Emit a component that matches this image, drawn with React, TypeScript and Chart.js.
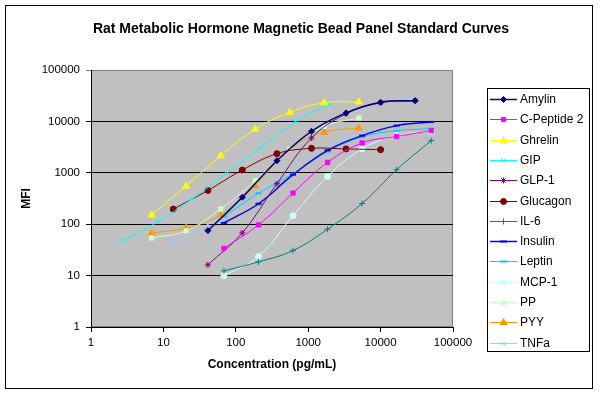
import React, { useEffect, useRef } from "react";
import { Chart, registerables } from "chart.js";
import { drawPoint } from "chart.js/helpers";

Chart.register(...registerables);

const chartTitle = "Rat Metabolic Hormone Magnetic Bead Panel Standard Curves";
const xTitle = "Concentration (pg/mL)";
const yTitle = "MFI";
const tickValues = [1, 10, 100, 1000, 10000, 100000];

const seriesNames = ["Amylin", "C-Peptide 2", "Ghrelin", "GIP", "GLP-1", "Glucagon", "IL-6", "Insulin", "Leptin", "MCP-1", "PP", "PYY", "TNFa"];
const seriesColors = ["#000080", "#FF00FF", "#FFFF00", "#00FFFF", "#800080", "#800000", "#008080", "#0000FF", "#00CCFF", "#CCFFFF", "#CCFFCC", "#FF9900", "#99CCFF"];
const seriesMarkers = ["rectRot", "rect", "triangle", "crossRot", "star", "circle", "cross", "line", "line", "circle", "rect", "triangle", "crossRot"];

// concentrations (pg/mL)
const concA = [41.2, 123, 370, 1111, 3333, 10000, 30000];
const concB = [68.6, 206, 617, 1852, 5556, 16667, 50000];
const concC = [6.86, 20.6, 61.7, 185, 556, 1667, 5000];
const concD = [2.74, 8.23, 24.7, 74.1, 222, 667, 2000];
const concE = [13.7, 41.2, 123, 370, 1111, 3333, 10000];

// MFI values
const amylinMfi = [75, 334, 1720, 6410, 14650, 23600, 25400];
const cPeptideMfi = [34, 97, 404, 1595, 3810, 5100, 6600];
const ghrelinMfi = [151, 553, 2150, 7020, 15000, 23100, 23900];
const gipMfi = [48, 110, 308, 970, 3150, 9900, 21900];
const glp1Mfi = [16.2, 68, 613, 4770, 14000, 23000, 25000];
const glucagonMfi = [197, 454, 1135, 2355, 2990, 2910, 2820];
const il6Mfi = [12.4, 18.5, 30.7, 80, 253, 1150, 4230];
const insulinMfi = [106, 250, 918, 2735, 5290, 8280, 9780];
const leptinMfi = [141, 400, 960, 2600, 5000, 6600, 7240];
const mcp1Mfi = [9.9, 23.5, 146, 851, 2910, 5290, 6420];
const ppMfi = [54, 74, 197, 700, 2900, 8000, 11700];
const pyyMfi = [67, 84, 152, 561, 2910, 6130, 7470];
const tnfaMfi = [42, 100, 260, 800, 2300, 4600, 6000];

const seriesConc = [concA, concB, concC, concD, concA, concE, concB, concB, concB, concB, concC, concC, concE];
const seriesMfi = [amylinMfi, cPeptideMfi, ghrelinMfi, gipMfi, glp1Mfi, glucagonMfi, il6Mfi, insulinMfi, leptinMfi, mcp1Mfi, ppMfi, pyyMfi, tnfaMfi];

const FONT = "'Liberation Sans', Arial, sans-serif";

function markerRadius(style: string) {
  if (style === "triangle") return 4;
  return 3;
}

const decorPlugin = {
  id: "decor",
  beforeDraw(chart: any) {
    const { ctx, chartArea: a } = chart;
    ctx.save();
    ctx.fillStyle = "#FFFFFF";
    ctx.fillRect(0, 0, chart.width, chart.height);
    ctx.strokeStyle = "#000000";
    ctx.lineWidth = 1;
    ctx.strokeRect(5.5, 5.5, 587, 383);
    ctx.fillStyle = "#C0C0C0";
    ctx.fillRect(a.left, a.top, a.right - a.left, a.bottom - a.top);
    ctx.strokeStyle = "#808080";
    ctx.strokeRect(a.left + 0.5, a.top + 0.5, a.right - a.left - 1, a.bottom - a.top - 1);
    ctx.restore();
  },
  afterDraw(chart: any) {
    const { ctx, chartArea: a } = chart;
    ctx.save();
    ctx.fillStyle = "#000000";
    ctx.textAlign = "center";
    ctx.textBaseline = "middle";
    ctx.font = `bold 14px ${FONT}`;
    ctx.fillText(chartTitle, 301, 29);
    ctx.font = `bold 12px ${FONT}`;
    ctx.fillText(xTitle, (a.left + a.right) / 2, 365);
    ctx.save();
    ctx.translate(27, (a.top + a.bottom) / 2);
    ctx.rotate(-Math.PI / 2);
    ctx.fillText(yTitle, 0, 0);
    ctx.restore();

    // legend
    ctx.fillStyle = "#FFFFFF";
    ctx.fillRect(487, 88, 102, 263);
    ctx.strokeStyle = "#000000";
    ctx.lineWidth = 1;
    ctx.strokeRect(487.5, 88.5, 102, 263);
    ctx.font = `12px ${FONT}`;
    ctx.textAlign = "left";
    chart.data.datasets.forEach((ds: any, i: number) => {
      const y = Math.round(99 + i * 20.3) + 0.5;
      const col = seriesColors[i];
      ctx.strokeStyle = col;
      ctx.lineWidth = ds.borderWidth;
      ctx.beginPath();
      ctx.moveTo(490, y);
      ctx.lineTo(517, y);
      ctx.stroke();
      if (ds.pointStyle === "line") {
        ctx.lineWidth = 2;
        ctx.beginPath();
        ctx.moveTo(500, y);
        ctx.lineTo(507, y);
        ctx.stroke();
      } else {
        ctx.fillStyle = col;
        ctx.strokeStyle = col;
        ctx.lineWidth = 1;
        drawPoint(ctx, { pointStyle: ds.pointStyle, radius: ds.pointRadius, borderWidth: 1, rotation: 0 } as any, 503.5, y);
      }
      ctx.fillStyle = "#000000";
      ctx.fillText(ds.label, 520, y);
    });
    ctx.restore();
  },
};

export default function App() {
  const ref = useRef<HTMLCanvasElement>(null);
  useEffect(() => {
    const datasets = seriesNames.map((name, i) => ({
      label: name,
      data: seriesConc[i].map((c, j) => ({ x: c, y: seriesMfi[i][j] })),
      borderColor: seriesColors[i],
      backgroundColor: seriesColors[i],
      pointBackgroundColor: seriesColors[i],
      pointBorderColor: seriesColors[i],
      pointStyle: seriesMarkers[i],
      pointRadius: markerRadius(seriesMarkers[i]),
      pointBorderWidth: seriesMarkers[i] === "line" ? 2 : 1,
      borderWidth: i === 0 || i === 7 ? 1.5 : 1,
      tension: 0.4,
      fill: false,
    }));
    const chart = new Chart(ref.current!, {
      type: "line",
      data: { datasets },
      plugins: [decorPlugin],
      options: {
        animation: false,
        responsive: false,
        devicePixelRatio: 1,
        layout: { padding: { left: 0, top: 70, right: 147, bottom: 0 } },
        plugins: { legend: { display: false }, title: { display: false }, tooltip: { enabled: false } },
        scales: {
          x: {
            type: "logarithmic",
            min: 1,
            max: 100000,
            afterBuildTicks: (s: any) => { s.ticks = tickValues.map((v) => ({ value: v })); },
            afterFit: (s: any) => { s.height = 70; },
            grid: { drawOnChartArea: false, drawTicks: true, tickLength: 5, color: "#000000" },
            border: { display: true, color: "#000000" },
            ticks: { color: "#000000", font: { family: FONT, size: 11.5 }, padding: 4, maxRotation: 0, autoSkip: false, callback: (v: any) => String(v) },
          },
          y: {
            type: "logarithmic",
            min: 1,
            max: 100000,
            afterBuildTicks: (s: any) => { s.ticks = tickValues.map((v) => ({ value: v })); },
            afterFit: (s: any) => { s.width = 91; },
            grid: {
              drawOnChartArea: true,
              drawTicks: true,
              tickLength: 5,
              color: (c: any) => (c.tick && c.tick.value === 100000 ? "#808080" : "#000000"),
            },
            border: { display: true, color: "#000000" },
            ticks: { color: "#000000", font: { family: FONT, size: 11.5 }, padding: 6, autoSkip: false, callback: (v: any) => String(v) },
          },
        },
      } as any,
    });
    return () => chart.destroy();
  }, []);
  return (
    <div style={{ position: "fixed", left: 0, top: 0, width: 600, height: 397 }}>
      <canvas ref={ref} width={600} height={397} style={{ width: 600, height: 397, display: "block" }} />
    </div>
  );
}
